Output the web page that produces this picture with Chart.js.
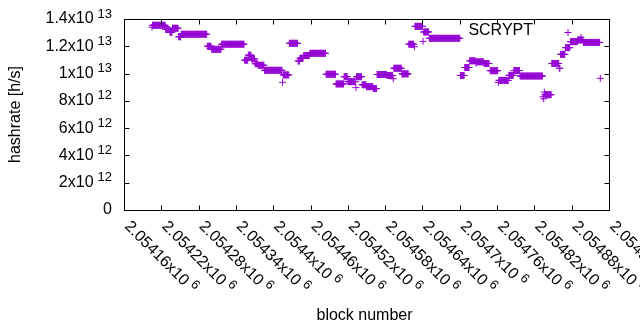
<!DOCTYPE html>
<html><head><meta charset="utf-8">
<script src="https://cdn.jsdelivr.net/npm/chart.js@4.4.1/dist/chart.umd.min.js"></script>
<style>html,body{margin:0;padding:0;background:#fff}#wrap{width:640px;height:330px}</style>
</head><body><div id="wrap"><canvas id="c" width="640" height="330"></canvas></div>
<script>
const seriesName = 'SCRYPT';
const xTitle = 'block number';
const yTitle = 'hashrate [h/s]';
// runs of constant hashrate: first block, last block, hashrate [h/s]
const runFirstBlock = [2054205,2054206,2054227,2054234,2054238,2054248,2054252,2054294,2054301,2054317,
  2054354,2054360,2054365,2054371,2054376,2054386,2054415,2054416,2054426,2054440,
  2054443,2054449,2054459,2054485,2054501,2054514,2054520,2054533,2054534,2054543,
  2054550,2054561,2054567,2054583,2054593,2054594,2054607,2054618,2054627,2054628,
  2054641,2054642,2054651,2054701,2054708,2054716,2054726,2054727,2054739,2054749,
  2054762,2054763,2054779,2054787,2054797,2054834,2054835,2054836,2054837,2054848,
  2054860,2054862,2054870,2054878,2054890,2054895,2054896,2054899,2054926];
const runLastBlock = [2054205,2054226,2054233,2054237,2054247,2054251,2054293,2054300,2054316,2054353,
  2054359,2054364,2054370,2054375,2054385,2054414,2054415,2054425,2054439,2054442,
  2054448,2054458,2054484,2054500,2054513,2054519,2054532,2054533,2054542,2054549,
  2054560,2054566,2054582,2054592,2054593,2054606,2054617,2054626,2054627,2054640,
  2054641,2054650,2054700,2054707,2054715,2054725,2054726,2054738,2054747,2054761,
  2054762,2054778,2054786,2054796,2054833,2054834,2054835,2054836,2054847,2054859,
  2054861,2054869,2054877,2054889,2054894,2054895,2054898,2054925,2054926];
const runHashrate = [1.340e13,1.354e13,1.323e13,1.302e13,1.332e13,1.270e13,1.288e13,1.200e13,1.178e13,1.215e13,
  1.098e13,1.135e13,1.108e13,1.072e13,1.061e13,1.024e13,9.36e12,9.90e12,1.222e13,1.092e13,
  1.112e13,1.1325e13,1.1485e13,9.95e12,9.24e12,9.77e12,9.41e12,8.97e12,9.77e12,9.18e12,
  9.04e12,8.90e12,9.93e12,9.86e12,9.62e12,1.039e13,9.98e12,1.215e13,1.197e13,1.346e13,
  1.236e13,1.305e13,1.2585e13,9.86e12,1.0445e13,1.0936e13,1.0753e13,1.086e13,1.074e13,1.021e13,
  9.35e12,9.50e12,9.87e12,1.0225e13,9.82e12,8.30e12,8.15e12,8.64e12,8.45e12,1.074e13,
  1.039e13,1.141e13,1.190e13,1.234e13,1.246e13,1.265e13,1.246e13,1.228e13,9.65e12];

const xTickValues = [2054160,2054220,2054280,2054340,2054400,2054460,2054520,2054580,2054640,2054700,2054760,2054820,2054880,2054940];
const xTickLabels = ['2.05416x10','2.05422x10','2.05428x10','2.05434x10','2.0544x10','2.05446x10','2.05452x10','2.05458x10','2.05464x10','2.0547x10','2.05476x10','2.05482x10','2.05488x10','2.05494x10'];
const xTickExponent = ['6','6','6','6','6','6','6','6','6','6','6','6','6','6'];
const yTickValues = [0,2e12,4e12,6e12,8e12,1e13,1.2e13,1.4e13];
const yTickLabels = ['0','2x10','4x10','6x10','8x10','1x10','1.2x10','1.4x10'];
const yTickExponent = ['','12','12','12','12','13','13','13'];

const points = [];
for (let i = 0; i < runFirstBlock.length; i++) {
  for (let b = runFirstBlock[i]; b <= runLastBlock[i]; b++) points.push({x: b, y: runHashrate[i]});
}

const COLOR = 'rgb(148,0,211)';
const FONT = '"Liberation Sans", Arial, Helvetica, sans-serif';
const FS = 16, SFS = 13, SUPRISE = 5, GAP = 4, TICK = 5;

const decor = {
  id: 'decor',
  afterDraw(chart) {
    const ctx = chart.ctx, a = chart.chartArea;
    const xs = chart.scales.x, ys = chart.scales.y;
    ctx.save();
    ctx.strokeStyle = '#000'; ctx.lineWidth = 1;
    const L = Math.round(a.left) + 0.5, R = Math.round(a.right) + 0.5, T = Math.round(a.top) + 0.5, B = Math.round(a.bottom) + 0.5;
    ctx.beginPath();
    ctx.rect(L, T, R - L, B - T);
    xTickValues.forEach(v => {
      const px = Math.round(xs.getPixelForValue(v)) + 0.5;
      ctx.moveTo(px, B); ctx.lineTo(px, B - TICK);
      ctx.moveTo(px, T); ctx.lineTo(px, T + TICK);
    });
    yTickValues.forEach(v => {
      const py = Math.round(ys.getPixelForValue(v)) + 0.5;
      ctx.moveTo(L, py); ctx.lineTo(L + TICK, py);
      ctx.moveTo(R, py); ctx.lineTo(R - TICK, py);
    });
    ctx.stroke();
    ctx.fillStyle = '#000';
    // y tick labels
    yTickValues.forEach((v, i) => {
      const py = ys.getPixelForValue(v);
      const rightEdge = a.left - 12;
      ctx.textBaseline = 'middle'; ctx.textAlign = 'left';
      ctx.font = SFS + 'px ' + FONT;
      const sup = yTickExponent[i];
      const wS = sup ? ctx.measureText(sup).width + GAP : 0;
      ctx.font = FS + 'px ' + FONT;
      const wB = ctx.measureText(yTickLabels[i]).width;
      const x0 = rightEdge - wS - wB;
      ctx.fillText(yTickLabels[i], x0, py);
      if (sup) { ctx.font = SFS + 'px ' + FONT; ctx.fillText(sup, x0 + wB + GAP, py - SUPRISE); }
    });
    // x tick labels rotated
    xTickValues.forEach((v, i) => {
      const px = xs.getPixelForValue(v);
      ctx.save();
      ctx.translate(px + 3, a.bottom + 14);
      ctx.rotate(Math.PI / 4);
      ctx.textAlign = 'left'; ctx.textBaseline = 'middle';
      ctx.font = FS + 'px ' + FONT;
      const wB = ctx.measureText(xTickLabels[i]).width;
      ctx.fillText(xTickLabels[i], 0, 0);
      ctx.font = SFS + 'px ' + FONT;
      ctx.fillText(xTickExponent[i], wB + GAP, -SUPRISE);
      ctx.restore();
    });
    // axis titles
    ctx.font = FS + 'px ' + FONT;
    ctx.textAlign = 'center'; ctx.textBaseline = 'middle';
    ctx.fillText(xTitle, (a.left + a.right) / 2 - 2, 316);
    ctx.save();
    ctx.translate(16, (a.top + a.bottom) / 2);
    ctx.rotate(-Math.PI / 2);
    ctx.fillText(yTitle, 0, 0);
    ctx.restore();
    // key
    ctx.textAlign = 'right';
    ctx.fillText(seriesName, 533, 31);
    ctx.strokeStyle = COLOR;
    ctx.beginPath();
    ctx.moveTo(564.5, 32.5); ctx.lineTo(571.5, 32.5);
    ctx.moveTo(568, 29); ctx.lineTo(568, 36);
    ctx.stroke();
    ctx.restore();
  }
};

new Chart(document.getElementById('c'), {
  type: 'scatter',
  data: { datasets: [{ label: seriesName, data: points, pointStyle: 'cross', radius: 3.5, borderWidth: 1,
    borderColor: COLOR, backgroundColor: COLOR, pointHoverRadius: 3.5 }] },
  options: {
    responsive: false, animation: false, devicePixelRatio: 1,
    layout: { padding: { left: 124, right: 31, top: 19, bottom: 120 } },
    plugins: { legend: { display: false }, tooltip: { enabled: false } },
    scales: {
      x: { type: 'linear', display: false, min: 2054160, max: 2054940 },
      y: { type: 'linear', display: false, min: 0, max: 1.4e13 }
    }
  },
  plugins: [decor]
});
</script></body></html>
